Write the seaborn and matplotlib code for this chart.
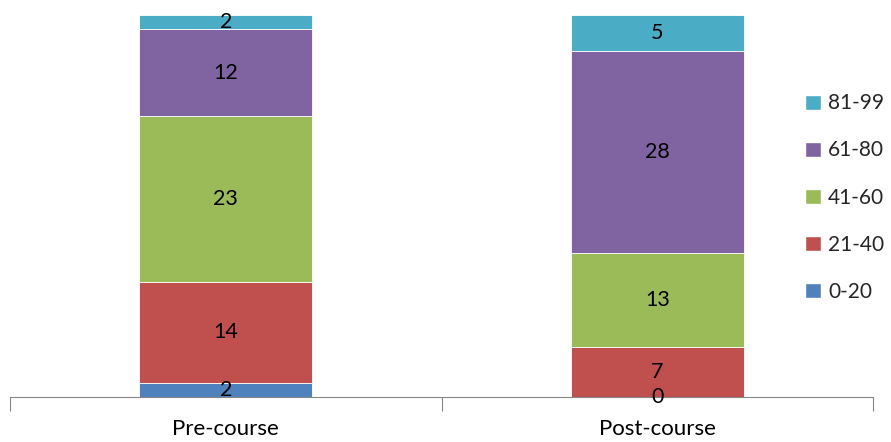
import numpy as np
import seaborn as sns
import matplotlib.pyplot as plt
from matplotlib.patches import Patch

# data
courses = ["Pre-course", "Post-course"]
bands = ["0-20", "21-40", "41-60", "61-80", "81-99"]
band_0_20 = [2, 0]
band_21_40 = [14, 7]
band_41_60 = [23, 13]
band_61_80 = [12, 28]
band_81_99 = [2, 5]
colors = ["#4F81BD", "#C0504D", "#9BBB59", "#8064A2", "#4BACC6"]

layers = [band_0_20, band_21_40, band_41_60, band_61_80, band_81_99]

sns.set_style("white")
plt.rcParams['font.family'] = ['Lato', 'DejaVu Sans']

fig = plt.figure(figsize=(8.91, 4.42), dpi=100)
ax = fig.add_axes([10 / 891, 45 / 442, 863 / 891, 382 / 442])

bottom = np.zeros(len(courses))
for vals, col in zip(layers, colors):
    sns.barplot(x=courses, y=vals, bottom=bottom, color=col, width=0.4,
                edgecolor="white", linewidth=0.6, ax=ax, saturation=1)
    for i, v in enumerate(vals):
        ax.text(i, bottom[i] + v / 2, str(v), ha="center", va="center",
                fontsize=15.5, color="black")
    bottom = bottom + np.array(vals)

ax.set_xlim(-0.5, 1.5)
ax.set_ylim(0, bottom.max())
ax.set_yticks([])
ax.set_xticks([-0.5, 0.5, 1.5], minor=False)
ax.set_xticklabels([])
ax.set_xticks([0, 1], minor=True)
ax.set_xticklabels(courses, minor=True, fontsize=16, color="black")
ax.tick_params(axis="x", which="major", length=10, width=0.8, color="#868686",
               direction="out", bottom=True)
ax.tick_params(axis="x", which="minor", length=0, pad=16)
for s in ["top", "left", "right"]:
    ax.spines[s].set_visible(False)
ax.spines["bottom"].set_color("#868686")
ax.spines["bottom"].set_linewidth(0.8)
ax.set_xlabel("")
ax.set_ylabel("")

handles = [Patch(facecolor=c, label=b) for c, b in zip(colors, bands)][::-1]
fig.legend(handles=handles, loc="center left", bbox_to_anchor=(805 / 891, 0.553),
           frameon=False, fontsize=15, handlelength=0.75, handleheight=0.75,
           labelspacing=1.3, handletextpad=0.35, borderpad=0, borderaxespad=0)

fig.savefig("out.png", dpi=100)
